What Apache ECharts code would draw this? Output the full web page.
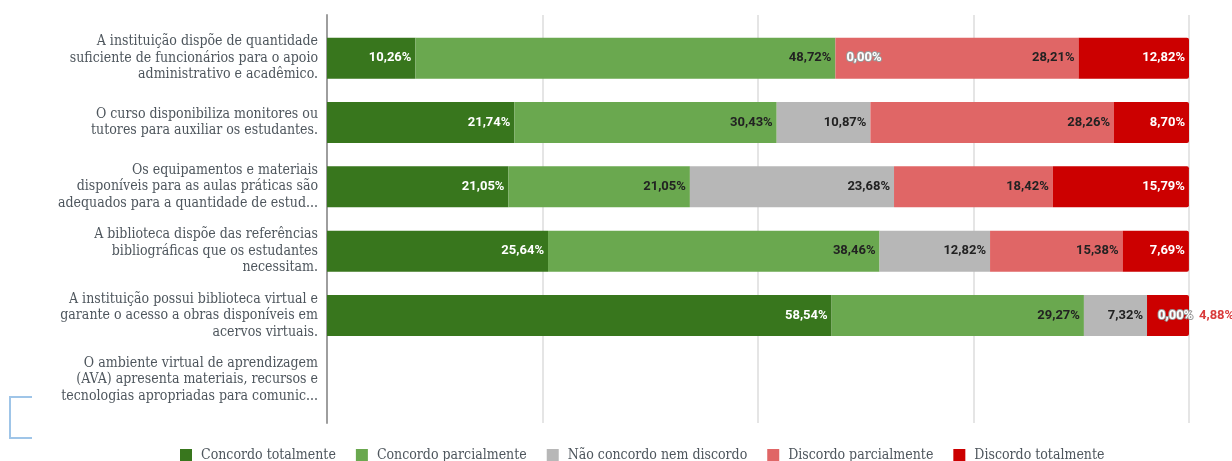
<!DOCTYPE html>
<html>
<head>
<meta charset="utf-8">
<script src="https://cdn.jsdelivr.net/npm/echarts@6/dist/echarts.min.js"></script>
<style>
  html, body { margin: 0; padding: 0; background: #fff; }
  #chart { width: 1232px; height: 461px; }
</style>
</head>
<body>
<div id="chart"></div>
<script>
// Statements (row labels, top to bottom)
const categories = [
  'A instituição dispõe de quantidade\nsuficiente de funcionários para o apoio\nadministrativo e acadêmico.',
  'O curso disponibiliza monitores ou\ntutores para auxiliar os estudantes.',
  'Os equipamentos e materiais\ndisponíveis para as aulas práticas são\nadequados para a quantidade de estud...',
  'A biblioteca dispõe das referências\nbibliográficas que os estudantes\nnecessitam.',
  'A instituição possui biblioteca virtual e\ngarante o acesso a obras disponíveis em\nacervos virtuais.',
  'O ambiente virtual de aprendizagem\n(AVA) apresenta materiais, recursos e\ntecnologias apropriadas para comunic...'
];

const seriesNames = [
  'Concordo totalmente',
  'Concordo parcialmente',
  'Não concordo nem discordo',
  'Discordo parcialmente',
  'Discordo totalmente'
];

// Percentages per answer, one entry per statement (null = no answers)
const concordoTotalmente   = [10.26, 21.74, 21.05, 25.64, 58.54, null];
const concordoParcialmente = [48.72, 30.43, 21.05, 38.46, 29.27, null];
const naoConcordoNem       = [0.00, 10.87, 23.68, 12.82, 7.32, null];
const discordoParcialmente = [28.21, 28.26, 18.42, 15.38, 0.00, null];
const discordoTotalmente   = [12.82, 8.70, 15.79, 7.69, 4.88, null];

const xTicks = [0, 25, 50, 75, 100];

const colors = ['#38761d', '#6aa84f', '#b7b7b7', '#e06666', '#cc0000'];
const labelColors = ['#ffffff', '#222222', '#222222', '#222222', '#ffffff'];

const serifFont = '"DejaVu Serif Condensed", "DejaVu Serif", serif';
const textGray = '#4e565d';

const fmt = v => v.toFixed(2).replace('.', ',') + '%';

const gridLeft = 327, gridRight = 43;

function buildData(values) {
  return values.map(v => {
    if (v === null) return null;
    const item = { value: v };
    if (v === 0) {
      // zero-width segment: label floats just right of its position
      item.label = {
        position: 'right', distance: 11, color: '#ffffff',
        textBorderColor: '#9a9a9a', textBorderWidth: 2
      };
    } else if (v < 6) {
      // too narrow to hold its label: place it outside
      item.label = { position: 'right', distance: 10, color: '#d93b3b' };
    }
    return item;
  });
}

const allValues = [concordoTotalmente, concordoParcialmente, naoConcordoNem, discordoParcialmente, discordoTotalmente];

const series = allValues.map((vals, i) => ({
  name: seriesNames[i],
  type: 'bar',
  stack: 'total',
  xAxisIndex: 1,
  yAxisIndex: 1,
  barWidth: 41,
  itemStyle: {
    color: colors[i],
    borderRadius: i === 4 ? [0, 2, 2, 0] : 0
  },
  label: {
    show: true,
    position: 'insideRight',
    distance: 4,
    color: labelColors[i],
    fontFamily: 'Roboto',
    fontWeight: 'bold',
    fontSize: 13,
    formatter: p => fmt(p.value)
  },
  emphasis: { disabled: true },
  data: buildData(vals)
}));

const chart = echarts.init(document.getElementById('chart'), null, { renderer: 'canvas' });

chart.setOption({
  animation: false,
  color: colors,
  grid: [
    // frame grid: gridlines and left axis line
    { left: gridLeft, right: gridRight, top: 15, bottom: 38 },
    // bar grid
    { left: gridLeft, right: gridRight, top: 26, bottom: 49 }
  ],
  xAxis: [
    {
      gridIndex: 0, type: 'value', min: xTicks[0], max: xTicks[xTicks.length - 1], interval: 25,
      axisLabel: { show: false }, axisTick: { show: false }, axisLine: { show: false },
      splitLine: { show: true, lineStyle: { color: '#dcdcdc', width: 1.5 } }
    },
    {
      gridIndex: 1, type: 'value', min: 0, max: 100, interval: 25,
      axisLabel: { show: false }, axisTick: { show: false }, axisLine: { show: false },
      splitLine: { show: false }
    }
  ],
  yAxis: [
    {
      gridIndex: 0, type: 'category', data: [''],
      axisLabel: { show: false }, axisTick: { show: false },
      axisLine: { show: true, lineStyle: { color: '#9e9e9e', width: 2 } }
    },
    {
      gridIndex: 1, type: 'category', inverse: true, data: categories,
      axisTick: { show: false }, axisLine: { show: false },
      axisLabel: {
        margin: 9,
        color: textGray,
        fontFamily: serifFont,
        fontSize: 14,
        lineHeight: 16.5,
        align: 'right'
      }
    }
  ],
  legend: {
    bottom: -6,
    left: 175,
    itemWidth: 12,
    itemHeight: 12,
    itemGap: 20,
    icon: 'rect',
    data: seriesNames,
    textStyle: {
      color: textGray, fontFamily: serifFont, fontSize: 14,
      padding: [0, 0, 0, 4]
    }
  },
  graphic: [{
    type: 'polyline',
    shape: { points: [[32, 397], [10, 397], [10, 438], [32, 438]] },
    style: { stroke: '#9fc5e8', lineWidth: 2, fill: null }
  }],
  series: series
});
</script>
</body>
</html>
